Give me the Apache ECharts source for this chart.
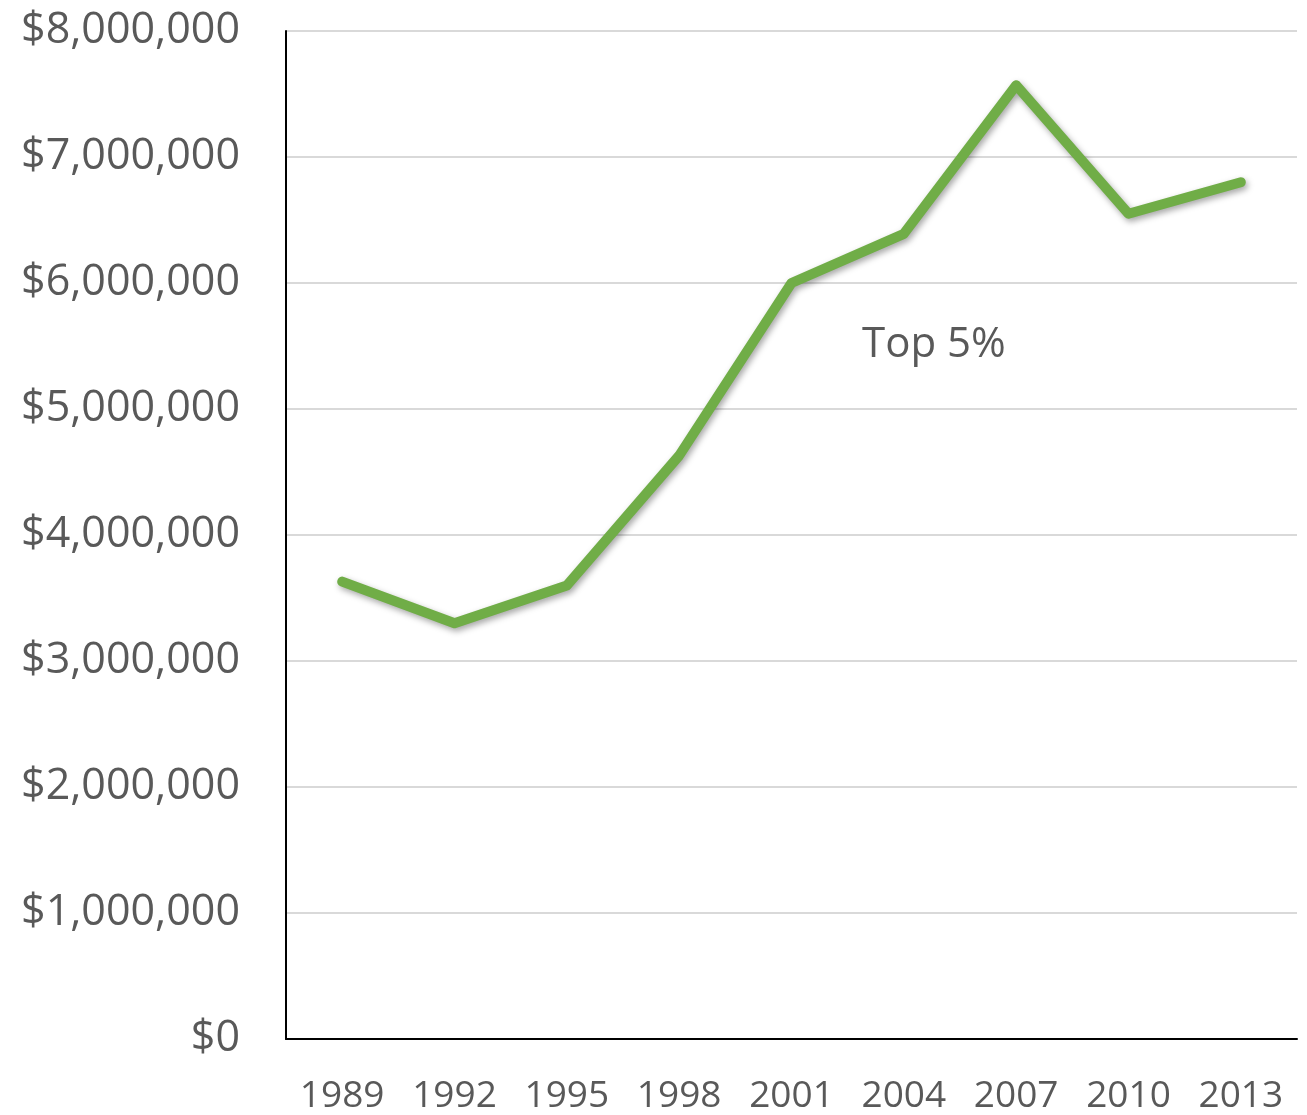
<!DOCTYPE html>
<html lang="en">
<head>
  <meta charset="UTF-8">
  <title>Top 5%</title>
  <script src="https://cdn.jsdelivr.net/npm/echarts@6/dist/echarts.min.js"></script>
  <style>
    html, body {
      margin: 0;
      padding: 0;
      background: #fff;
    }

    #main {
      width: 1307px;
      height: 1115px;
    }
  </style>
</head>
<body>
<div id="main"></div>
<script>
  // 数据
  var years = ['1989', '1992', '1995', '1998', '2001', '2004', '2007', '2010', '2013'];
  var top5 = [3630000, 3300000, 3600000, 4630000, 6000000, 6390000, 7570000, 6550000, 6800000];
  var yTicks = [0, 1000000, 2000000, 3000000, 4000000, 5000000, 6000000, 7000000, 8000000];

  var textColor = '#595959';
  var fontName = '"Open Sans", "Liberation Sans", sans-serif';

  var myChart = echarts.init(document.getElementById('main'));

  var option = {
    animation: false,
    grid: {
      left: 286,
      right: 10,
      top: 31,
      bottom: 74
    },
    xAxis: {
      type: 'category',
      data: years,
      boundaryGap: true,
      axisLine: {show: true, lineStyle: {color: '#000', width: 2}},
      axisTick: {show: false},
      axisLabel: {
        color: textColor,
        fontSize: 37,
        fontFamily: fontName,
        margin: 39
      },
      splitLine: {show: false}
    },
    yAxis: {
      type: 'value',
      min: yTicks[0],
      max: yTicks[yTicks.length - 1],
      interval: 1000000,
      axisLine: {show: true, lineStyle: {color: '#000', width: 2}},
      axisTick: {show: false},
      axisLabel: {
        color: textColor,
        fontSize: 43,
        fontFamily: fontName,
        margin: 46,
        formatter: function (v) {
          return '$' + v.toLocaleString('en-US');
        }
      },
      splitLine: {show: true, lineStyle: {color: '#d9d9d9', width: 2}}
    },
    graphic: [{
      type: 'text',
      left: 862,
      top: 324,
      style: {
        text: 'Top 5%',
        fill: textColor,
        font: '42px ' + fontName
      }
    }],
    series: [{
      name: 'Top 5%',
      type: 'line',
      data: top5,
      symbol: 'none',
      lineStyle: {
        color: '#70ad47',
        width: 10,
        cap: 'round',
        join: 'round',
        shadowColor: 'rgba(0,0,0,0.35)',
        shadowBlur: 6,
        shadowOffsetX: 2,
        shadowOffsetY: 3
      }
    }]
  };

  myChart.setOption(option);
</script>
</body>
</html>
